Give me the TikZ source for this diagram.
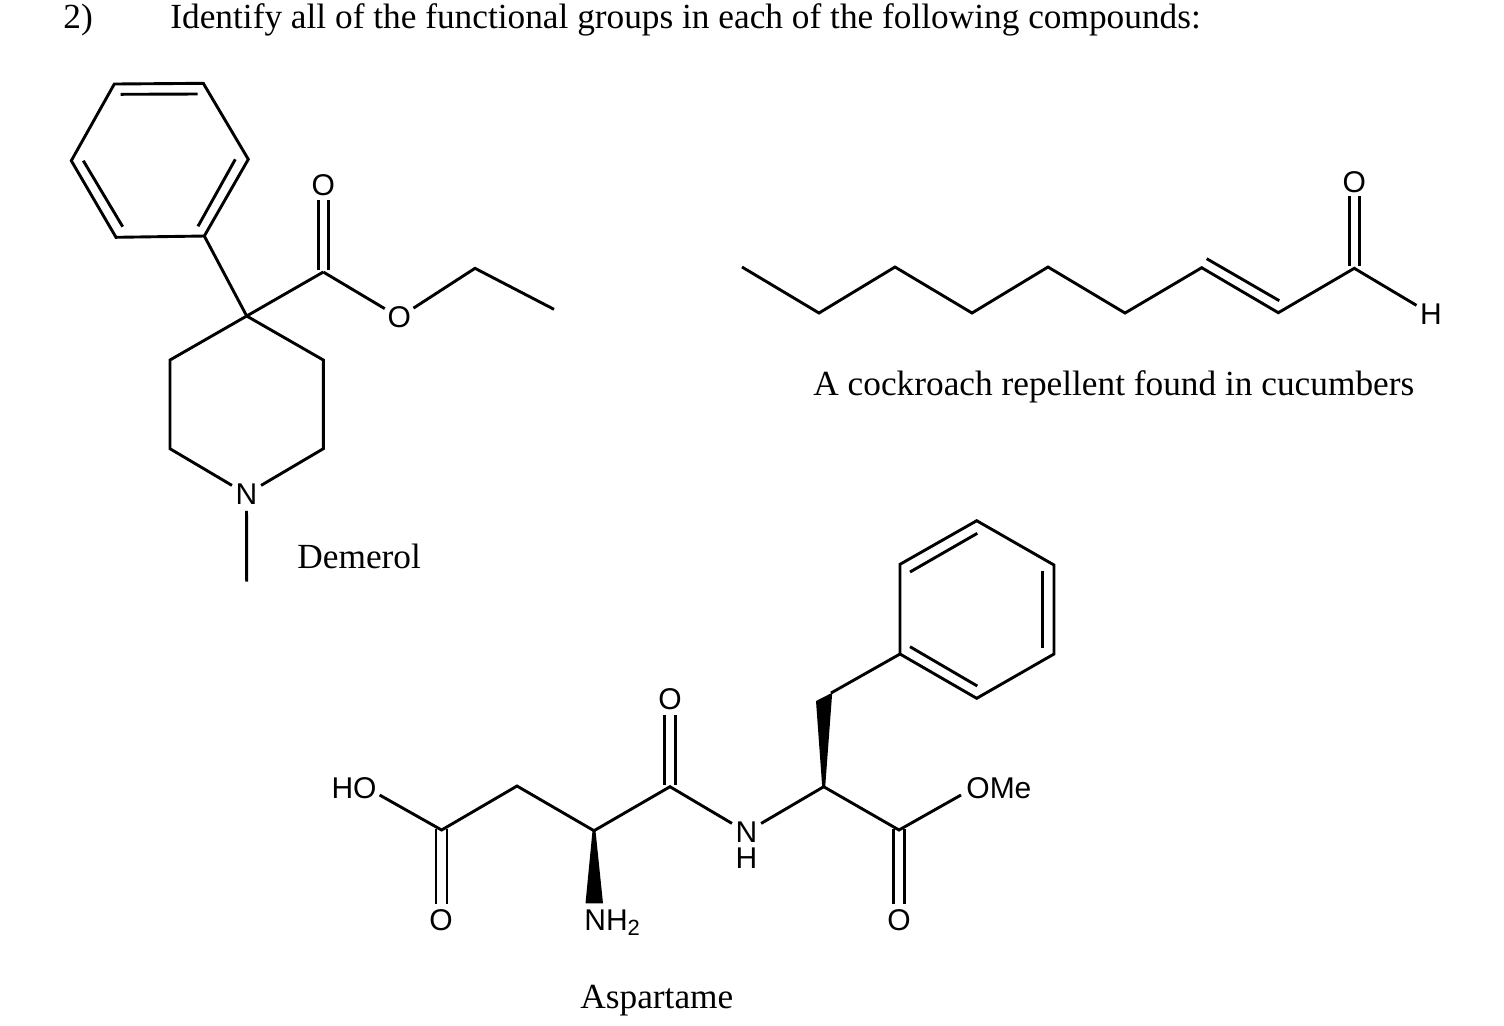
\documentclass[tikz,border=0pt]{standalone}
\usepackage{fontspec}
\setmainfont{Liberation Serif}
\newfontfamily\chemfont{Liberation Sans}
\tikzset{
  bond/.style={line width=1.45pt,line cap=butt,line join=miter,black},
  atom/.style={circle,minimum size=16.5pt,inner sep=0pt,font=\chemfont\fontsize{15}{15}\selectfont},
  freelabel/.style={inner sep=0pt,font=\chemfont\fontsize{15}{15}\selectfont},
  caption/.style={inner sep=0pt,anchor=base west,font=\fontsize{17.65}{18}\selectfont},
  wedgefill/.style={fill=black,draw=none}
}
\begin{document}
\begin{tikzpicture}[x=0.5pt,y=-0.5pt]
\useasboundingbox (0,0) rectangle (1504,1025);
\fill[white] (0,0) rectangle (1504,1025);
% --- header
\node[caption] (num) at (63,28.5) {2)};
\node[caption] (title) at (170,28.5) {Identify all of the functional groups in each of the following compounds:};
% --- Demerol
\coordinate (a1) at (114.3,84);
\coordinate (a2) at (203.3,83.3);
\coordinate (a3) at (248.3,159.3);
\coordinate (a4) at (204.3,236);
\coordinate (a5) at (116,237.3);
\coordinate (a6) at (71.3,160.7);
\coordinate (i1) at (120.7,94.3);
\coordinate (i2) at (197.7,94);
\coordinate (i3) at (235.3,159.3);
\coordinate (i4) at (198,226.3);
\coordinate (i5) at (122.7,226.7);
\coordinate (i6) at (83.3,160.7);
\coordinate (q) at (246.7,316);
\coordinate (c1) at (323.3,272);
\coordinate (r1) at (170,360);
\coordinate (r2) at (170,448.7);
\coordinate (r3) at (323.3,448.7);
\coordinate (r4) at (323.3,360);
\coordinate (e1) at (475,268.3);
\coordinate (e2) at (554,309.3);
\coordinate (me) at (246.7,581.7);
\coordinate (d1) at (318.3,270);
\coordinate (d2) at (318.3,200);
\coordinate (d3) at (328.3,270);
\coordinate (d4) at (328.3,200);
\node[atom] (oa) at (323.3,185) {O};
\node[atom] (ob) at (399.3,317.3) {O};
\node[atom] (na) at (246.5,494) {N};
\draw[bond] (a1) -- (a2) -- (a3) -- (a4) -- (a5) -- (a6) -- cycle;
\draw[bond] (i1) -- (i2);
\draw[bond] (i3) -- (i4);
\draw[bond] (i5) -- (i6);
\draw[bond] (a4) -- (q);
\draw[bond] (q) -- (c1);
\draw[bond] (d1) -- (d2);
\draw[bond] (d3) -- (d4);
\draw[bond] (c1) -- (ob);
\draw[bond] (ob) -- (e1) -- (e2);
\draw[bond] (na) -- (r2) -- (r1) -- (q) -- (r4) -- (r3) -- (na);
\draw[bond] (na) -- (me);
\node[caption] (dem) at (297,568) {Demerol};
% --- cockroach repellent
\coordinate (k1) at (742,267);
\coordinate (k2) at (819,313);
\coordinate (k3) at (895,267);
\coordinate (k4) at (972,313);
\coordinate (k5) at (1048,267);
\coordinate (k6) at (1125,313);
\coordinate (k7) at (1201.7,267.7);
\coordinate (k8) at (1278.3,312.7);
\coordinate (k9) at (1354.3,268.3);
\coordinate (k10) at (1206.7,258.7);
\coordinate (k11) at (1279.3,300.7);
\coordinate (k12) at (1349.3,266);
\coordinate (k13) at (1349.3,196);
\coordinate (k14) at (1359.3,266);
\coordinate (k15) at (1359.3,196);
\node[atom] (oc) at (1354.3,181.7) {O};
\node[atom] (hc) at (1431,314) {H};
\draw[bond] (k1) -- (k2) -- (k3) -- (k4) -- (k5) -- (k6) -- (k7) -- (k8) -- (k9) -- (hc);
\draw[bond] (k10) -- (k11);
\draw[bond] (k12) -- (k13);
\draw[bond] (k14) -- (k15);
\node[caption] (cap) at (813,395) {A cockroach repellent found in cucumbers};
% --- Aspartame
\node[freelabel] (ho) at (354,788) {HO};
\node[freelabel,anchor=west] (ome) at (966,788) {OMe};
\node[atom] (o1) at (441,920) {O};
\node[atom] (o2) at (670,699) {O};
\node[atom] (o3) at (899,920) {O};
\node[atom] (n) at (746.5,832) {N};
\node[freelabel] (nh) at (746.5,858) {H};
\node[freelabel,anchor=west] (nh2) at (584,923) {NH\raisebox{-0.3ex}{\fontsize{11}{11}\selectfont 2}};
\coordinate (hoe) at (379.6,795);
\coordinate (omee) at (961,795);
\coordinate (s1) at (441.6,830);
\coordinate (s2) at (517,786);
\coordinate (s3) at (594,830.7);
\coordinate (s4) at (670,786.7);
\coordinate (s5) at (823.7,786.7);
\coordinate (s6) at (899,830);
\coordinate (s7) at (831,693);
\coordinate (b1) at (900,654);
\coordinate (b2) at (900,564.3);
\coordinate (b3) at (976.7,520.7);
\coordinate (b4) at (1054,565);
\coordinate (b5) at (1054,654);
\coordinate (b6) at (976.7,698.3);
\coordinate (j1) at (910,572);
\coordinate (j2) at (977.3,533.3);
\coordinate (j3) at (1042.3,571);
\coordinate (j4) at (1042.3,648.3);
\coordinate (j5) at (977.3,686);
\coordinate (j6) at (910,646.7);
\draw[bond] (hoe) -- (s1) -- (s2) -- (s3) -- (s4) -- (n);
\draw[bond] (n) -- (s5) -- (s6) -- (omee);
\draw[bond] (436,829) -- (436,904);
\draw[bond] (447,829) -- (447,904);
\draw[bond] (664.7,785) -- (664.7,715);
\draw[bond] (675.7,785) -- (675.7,715);
\draw[bond] (893.7,829) -- (893.7,904);
\draw[bond] (904.7,829) -- (904.7,904);
\fill[wedgefill] (592.5,830.7) -- (595.5,830.7) -- (603,903.3) -- (585.5,903.3) -- cycle;
\fill[wedgefill] (822.2,786.7) -- (825.2,786.7) -- (832.2,692.7) -- (816,701) -- cycle;
\draw[bond] (s7) -- (b1);
\draw[bond] (b1) -- (b2) -- (b3) -- (b4) -- (b5) -- (b6) -- cycle;
\draw[bond] (j1) -- (j2);
\draw[bond] (j3) -- (j4);
\draw[bond] (j5) -- (j6);
\node[caption] (asp) at (580,1008) {Aspartame};
\end{tikzpicture}
\end{document}
